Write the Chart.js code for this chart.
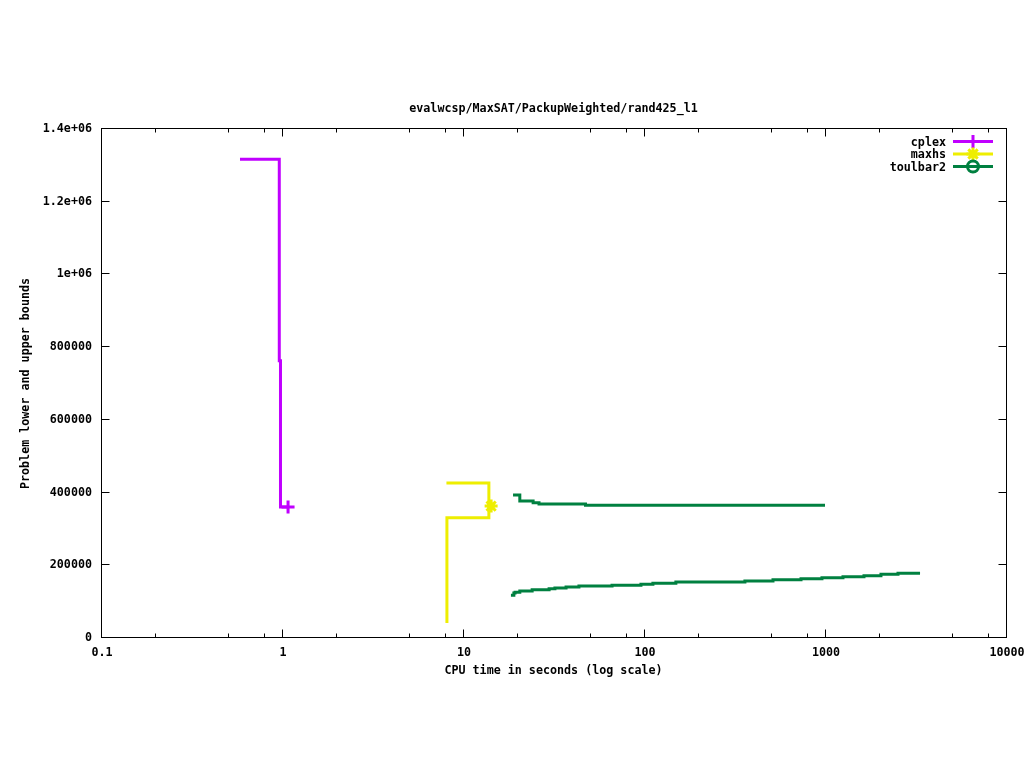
<!DOCTYPE html>
<html><head><meta charset="utf-8">
<script src="https://cdn.jsdelivr.net/npm/chart.js@4.4.1/dist/chart.umd.min.js"></script>
<style>html,body{margin:0;padding:0;background:#fff;overflow:hidden}#wrap{width:1024px;height:768px;position:relative}</style>
</head><body><div id="wrap"><canvas id="c" width="1024" height="768"></canvas></div>
<script>
// ---- data ----
const chartTitle = 'evalwcsp/MaxSAT/PackupWeighted/rand425_l1';
const xAxisTitle = 'CPU time in seconds (log scale)';
const yAxisTitle = 'Problem lower and upper bounds';
const xTickValues = [0.1, 1, 10, 100, 1000, 10000];
const xTickLabels = ['0.1', '1', '10', '100', '1000', '10000'];
const xMinorFactors = [2, 5, 8];
const yTickValues = [0, 200000, 400000, 600000, 800000, 1000000, 1200000, 1400000];
const yTickLabels = ['0', '200000', '400000', '600000', '800000', '1e+06', '1.2e+06', '1.4e+06'];
const seriesNames = ['cplex', 'maxhs', 'toulbar2'];

const cplexTime = [0.586, 0.966, 0.981, 1.08];
const cplexUpper = [1314000, 760000, 357500, 357500];

const maxhsUpperTime = [8.1, 13.9, 14.3];
const maxhsUpper = [423500, 360000, 360000];
const maxhsLowerTime = [8.15, 8.15, 13.9, 14.3];
const maxhsLower = [38500, 328000, 360000, 360000];

const toulbarUpperTime = [18.9, 20.6, 24.4, 26.3, 47.5, 1000];
const toulbarUpper = [390400, 373900, 369300, 365700, 362100, 362100];
const toulbarLowerTime = [18.4, 19.1, 19.4, 20.6, 24.1, 29.9, 32.2, 37.1, 43.7, 66.6, 96.2, 112, 150, 361, 516, 737, 962, 1257, 1642, 2038, 2531, 3350];
const toulbarLower = [114700, 121000, 122900, 126500, 130000, 132800, 134700, 137500, 140200, 142100, 144900, 147600, 151200, 154000, 157500, 160300, 163000, 165800, 168500, 172400, 175100, 175100];

// ---- styles ----
const colCplex = '#c000ff', colMaxhs = '#eeee00', colToul = '#008040';
const FONT = 'bold 11.7px "DejaVu Sans Mono", "Liberation Mono", monospace';

function pts(xs, ys) { return xs.map((x, i) => ({ x: x, y: ys[i] })); }
function lastOnly(xs, r) { return xs.map((_, i) => i === xs.length - 1 ? r : 0); }

function mkSet(label, xs, ys, color, style, marker) {
  return {
    label: label, data: pts(xs, ys), borderColor: color, backgroundColor: color,
    borderWidth: 3, stepped: true, fill: false, tension: 0,
    pointStyle: style, pointRadius: marker ? lastOnly(xs, 6.5) : 0,
    pointBorderWidth: 3, pointBorderColor: color, pointBackgroundColor: color,
    pointHoverRadius: 0, borderCapStyle: 'butt', borderJoinStyle: 'miter'
  };
}

function drawMarker(ctx, style, x, y, r, color) {
  ctx.save();
  ctx.strokeStyle = color; ctx.lineWidth = 3; ctx.beginPath();
  if (style === 'cross' || style === 'star') {
    ctx.moveTo(x - r, y); ctx.lineTo(x + r, y);
    ctx.moveTo(x, y - r); ctx.lineTo(x, y + r);
  }
  if (style === 'star') {
    const d = r * 0.72;
    ctx.moveTo(x - d, y - d); ctx.lineTo(x + d, y + d);
    ctx.moveTo(x - d, y + d); ctx.lineTo(x + d, y - d);
  }
  if (style === 'circle') {
    ctx.moveTo(x + r - 1, y); ctx.arc(x, y, r - 1, 0, Math.PI * 2);
  }
  ctx.stroke();
  ctx.restore();
}

const framePlugin = {
  id: 'gnuplotFrame',
  afterDraw(chart) {
    const ctx = chart.ctx, a = chart.chartArea;
    const xs = chart.scales.x, ys = chart.scales.y;
    ctx.save();
    ctx.strokeStyle = '#000'; ctx.lineWidth = 1;
    const L = Math.round(a.left) + 0.5, R = Math.round(a.right) + 0.5;
    const T = Math.round(a.top) + 0.5, B = Math.round(a.bottom) + 0.5;
    ctx.strokeRect(L, T, R - L, B - T);
    ctx.beginPath();
    // y ticks (inward, mirrored)
    yTickValues.forEach(v => {
      const py = Math.round(ys.getPixelForValue(v)) + 0.5;
      ctx.moveTo(L, py); ctx.lineTo(L + 8, py);
      ctx.moveTo(R, py); ctx.lineTo(R - 8, py);
    });
    // x ticks major + minor
    xTickValues.forEach((v, i) => {
      const px = Math.round(xs.getPixelForValue(v)) + 0.5;
      ctx.moveTo(px, B); ctx.lineTo(px, B - 8);
      ctx.moveTo(px, T); ctx.lineTo(px, T + 8);
      if (i < xTickValues.length - 1) {
        xMinorFactors.forEach(f => {
          const mx = Math.round(xs.getPixelForValue(v * f)) + 0.5;
          ctx.moveTo(mx, B); ctx.lineTo(mx, B - 4);
          ctx.moveTo(mx, T); ctx.lineTo(mx, T + 4);
        });
      }
    });
    ctx.stroke();

    ctx.fillStyle = '#000'; ctx.font = FONT;
    ctx.textAlign = 'right'; ctx.textBaseline = 'middle';
    yTickValues.forEach((v, i) => ctx.fillText(yTickLabels[i], a.left - 9, ys.getPixelForValue(v) + 1));
    ctx.textAlign = 'center';
    xTickValues.forEach((v, i) => ctx.fillText(xTickLabels[i], xs.getPixelForValue(v) + 1, a.bottom + 15.5));
    const cx = (a.left + a.right) / 2;
    ctx.fillText(xAxisTitle, cx, a.bottom + 33.5);
    ctx.fillText(chartTitle, cx, a.top - 19.5);
    ctx.save();
    ctx.translate(26, (a.top + a.bottom) / 2 + 1);
    ctx.rotate(-Math.PI / 2);
    ctx.fillText(yAxisTitle, 0, 0);
    ctx.restore();

    // legend (top-right inside the plot)
    const legend = [
      { name: seriesNames[0], color: colCplex, style: 'cross' },
      { name: seriesNames[1], color: colMaxhs, style: 'star' },
      { name: seriesNames[2], color: colToul, style: 'circle' }
    ];
    legend.forEach((e, i) => {
      const y = a.top + 13.5 + i * 12.5;
      ctx.fillStyle = '#000'; ctx.textAlign = 'right';
      ctx.fillText(e.name, a.right - 60, y + 1);
      ctx.strokeStyle = e.color; ctx.lineWidth = 3;
      ctx.beginPath(); ctx.moveTo(a.right - 53, y); ctx.lineTo(a.right - 13, y); ctx.stroke();
      drawMarker(ctx, e.style, a.right - 33, y, 6.5, e.color);
    });
    ctx.restore();
  }
};

new Chart(document.getElementById('c'), {
  type: 'line',
  data: {
    datasets: [
      mkSet(seriesNames[0], cplexTime, cplexUpper, colCplex, 'cross', true),
      mkSet(seriesNames[1], maxhsUpperTime, maxhsUpper, colMaxhs, 'star', true),
      mkSet(seriesNames[1] + ' lower', maxhsLowerTime, maxhsLower, colMaxhs, 'star', false),
      mkSet(seriesNames[2], toulbarUpperTime, toulbarUpper, colToul, 'circle', false),
      mkSet(seriesNames[2] + ' lower', toulbarLowerTime, toulbarLower, colToul, 'circle', false)
    ]
  },
  options: {
    responsive: false, animation: false, devicePixelRatio: 1, events: [],
    layout: { padding: { left: 101, right: 18, top: 128, bottom: 131 } },
    plugins: { legend: { display: false }, tooltip: { enabled: false }, title: { display: false } },
    scales: {
      x: {
        type: 'logarithmic', min: 0.1, max: 10000,
        ticks: { display: false }, grid: { display: false, drawTicks: false }, border: { display: false },
        afterBuildTicks: s => { s.ticks = xTickValues.map(v => ({ value: v })); }
      },
      y: {
        type: 'linear', min: 0, max: 1400000,
        ticks: { display: false }, grid: { display: false, drawTicks: false }, border: { display: false },
        afterBuildTicks: s => { s.ticks = yTickValues.map(v => ({ value: v })); }
      }
    }
  },
  plugins: [framePlugin]
});
</script>
</body></html>
